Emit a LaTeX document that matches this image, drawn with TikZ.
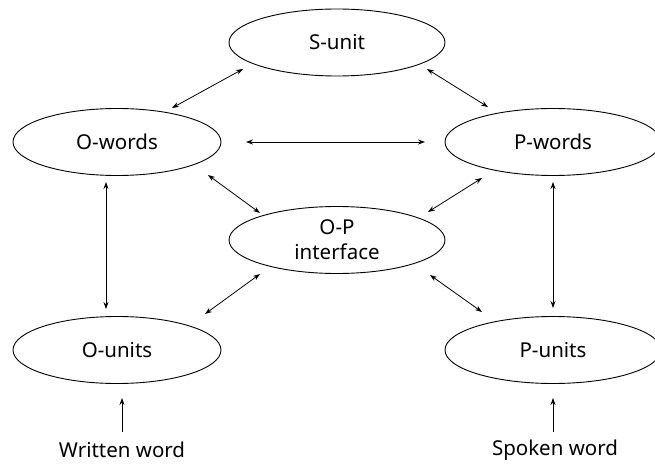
\documentclass[tikz,border=0pt]{standalone}
\usepackage{fontspec}
\setmainfont{Noto Sans}
\usetikzlibrary{shapes.geometric,arrows.meta}
\begin{document}
\begin{tikzpicture}[x=1pt,y=-1pt,
  oval/.style={draw,ellipse,line width=0.9pt,minimum width=216pt,minimum height=67pt,inner sep=0pt,font=\fontsize{20.5}{25}\selectfont,align=center},
  lbl/.style={font=\fontsize{20.5}{25}\selectfont,inner sep=0pt},
  link/.style={line width=0.8pt,{Stealth[length=7pt,width=5pt]}-{Stealth[length=7pt,width=5pt]}},
  feed/.style={line width=0.8pt,-{Stealth[length=7pt,width=5pt]}}]
\useasboundingbox (0,0) rectangle (655,465);
\node[oval] (su) at (337,42.5) {S-unit};
\node[oval,minimum width=208pt] (ow) at (117,142) {O-words};
\node[oval] (pw) at (553,142) {P-words};
\node[oval] (op) at (337,240) {O-P\\interface};
\node[oval,minimum width=208pt] (ou) at (117,350) {O-units};
\node[oval] (pu) at (553,350) {P-units};
\node[lbl] (ww) at (122,450) {Written word};
\node[lbl] (sw) at (555,450) {Spoken word};
% connectors
\draw[link] ([shift={(55,-34)}]ow.center) -- ([shift={(-94,26.5)}]su.center);
\draw[link] ([shift={(90,26.5)}]su.center) -- ([shift={(-65,-35)}]pw.center);
\draw[link] ([shift={(129,0)}]ow.center) -- ([shift={(-128,0)}]pw.center);
\draw[link] ([shift={(91,33)}]ow.center) -- ([shift={(-77,-27)}]op.center);
\draw[link] ([shift={(-71,36)}]pw.center) -- ([shift={(91,-28)}]op.center);
\draw[link] ([shift={(-77,34)}]op.center) -- ([shift={(88,-36)}]ou.center);
\draw[link] ([shift={(93,35)}]op.center) -- ([shift={(-71,-38)}]pu.center);
\draw[link] ([shift={(-11,40)}]ow.center) -- ([shift={(-11,-41)}]ou.center);
\draw[link] ([shift={(0,40)}]pw.center) -- ([shift={(0,-42)}]pu.center);
\draw[feed] ([shift={(0,-18)}]ww.center) -- ([shift={(5,48)}]ou.center);
\draw[feed] ([shift={(-2,-18)}]sw.center) -- ([shift={(0,48)}]pu.center);
\end{tikzpicture}
\end{document}
